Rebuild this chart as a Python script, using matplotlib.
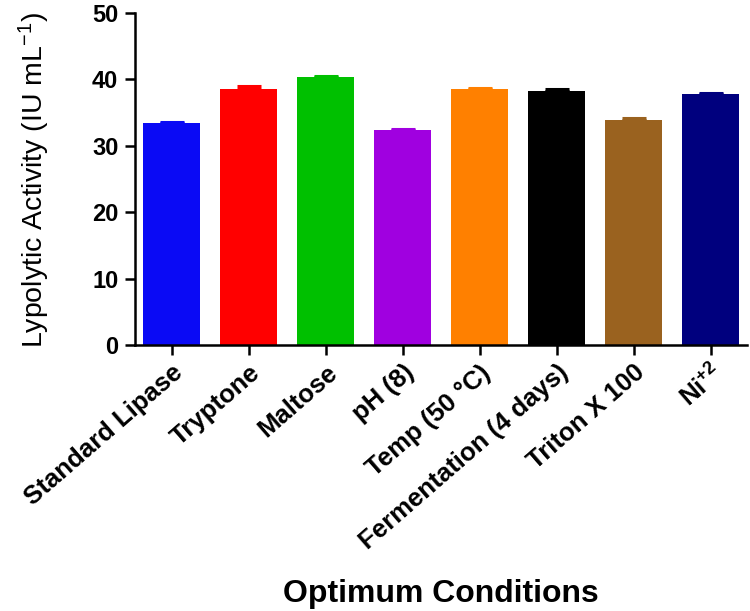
import matplotlib
matplotlib.use('Agg')
import matplotlib.pyplot as plt
import numpy as np

plt.rcParams['font.family'] = ['Liberation Sans', 'DejaVu Sans']
plt.rcParams['mathtext.default'] = 'regular'

# Data
conditions = ['Standard Lipase', 'Tryptone', 'Maltose', 'pH (8)', 'Temp (50 \u00b0C)',
              'Fermentation (4 days)', 'Triton X 100', 'Ni$^{+2}$']
activity = [33.4, 38.5, 40.35, 32.3, 38.5, 38.3, 33.9, 37.8]
sd = [0.25, 0.5, 0.1, 0.3, 0.2, 0.2, 0.25, 0.12]
colors = ['#0A0AF5', '#FF0000', '#00C000', '#A000E0', '#FF8000', '#000000', '#9A621F', '#00007E']

fig = plt.figure(figsize=(7.5, 6.11), dpi=100)
ax = fig.add_axes([0.18, 0.435, 0.816, 0.544])

x = np.arange(len(conditions))
ax.bar(x, activity, width=0.74, color=colors, zorder=2)
for xi, val, err, c in zip(x, activity, sd, colors):
    ax.errorbar(xi, val, yerr=[[0], [err]], ecolor=c, elinewidth=2.2,
                capsize=8.3, capthick=2.2, fmt='none', zorder=3)

ax.set_xlim(-0.48, 7.47)
ax.set_ylim(0, 50)
ax.set_yticks([0, 10, 20, 30, 40, 50])
ax.set_xticks(x)
ax.set_xticklabels(conditions, rotation=41, ha='right', rotation_mode='anchor',
                   fontsize=18.5, fontweight='bold')
for lab in ax.get_yticklabels():
    lab.set_fontsize(17)
    lab.set_fontweight('bold')

for side in ['top', 'right']:
    ax.spines[side].set_visible(False)
for side in ['left', 'bottom']:
    ax.spines[side].set_linewidth(1.8)
ax.tick_params(axis='both', width=1.8, length=7, direction='out')
ax.tick_params(axis='y', pad=5)
ax.tick_params(axis='x', pad=4)

ax.set_ylabel('Lypolytic Activity (IU mL$^{-1}$)', fontsize=20.5)
ax.yaxis.set_label_coords(-0.136, 0.496)
ax.set_xlabel('Optimum Conditions', fontsize=23, fontweight='bold', va='center')
ax.xaxis.set_label_coords(0.5, -0.749)

plt.savefig('out.png', dpi=100)
